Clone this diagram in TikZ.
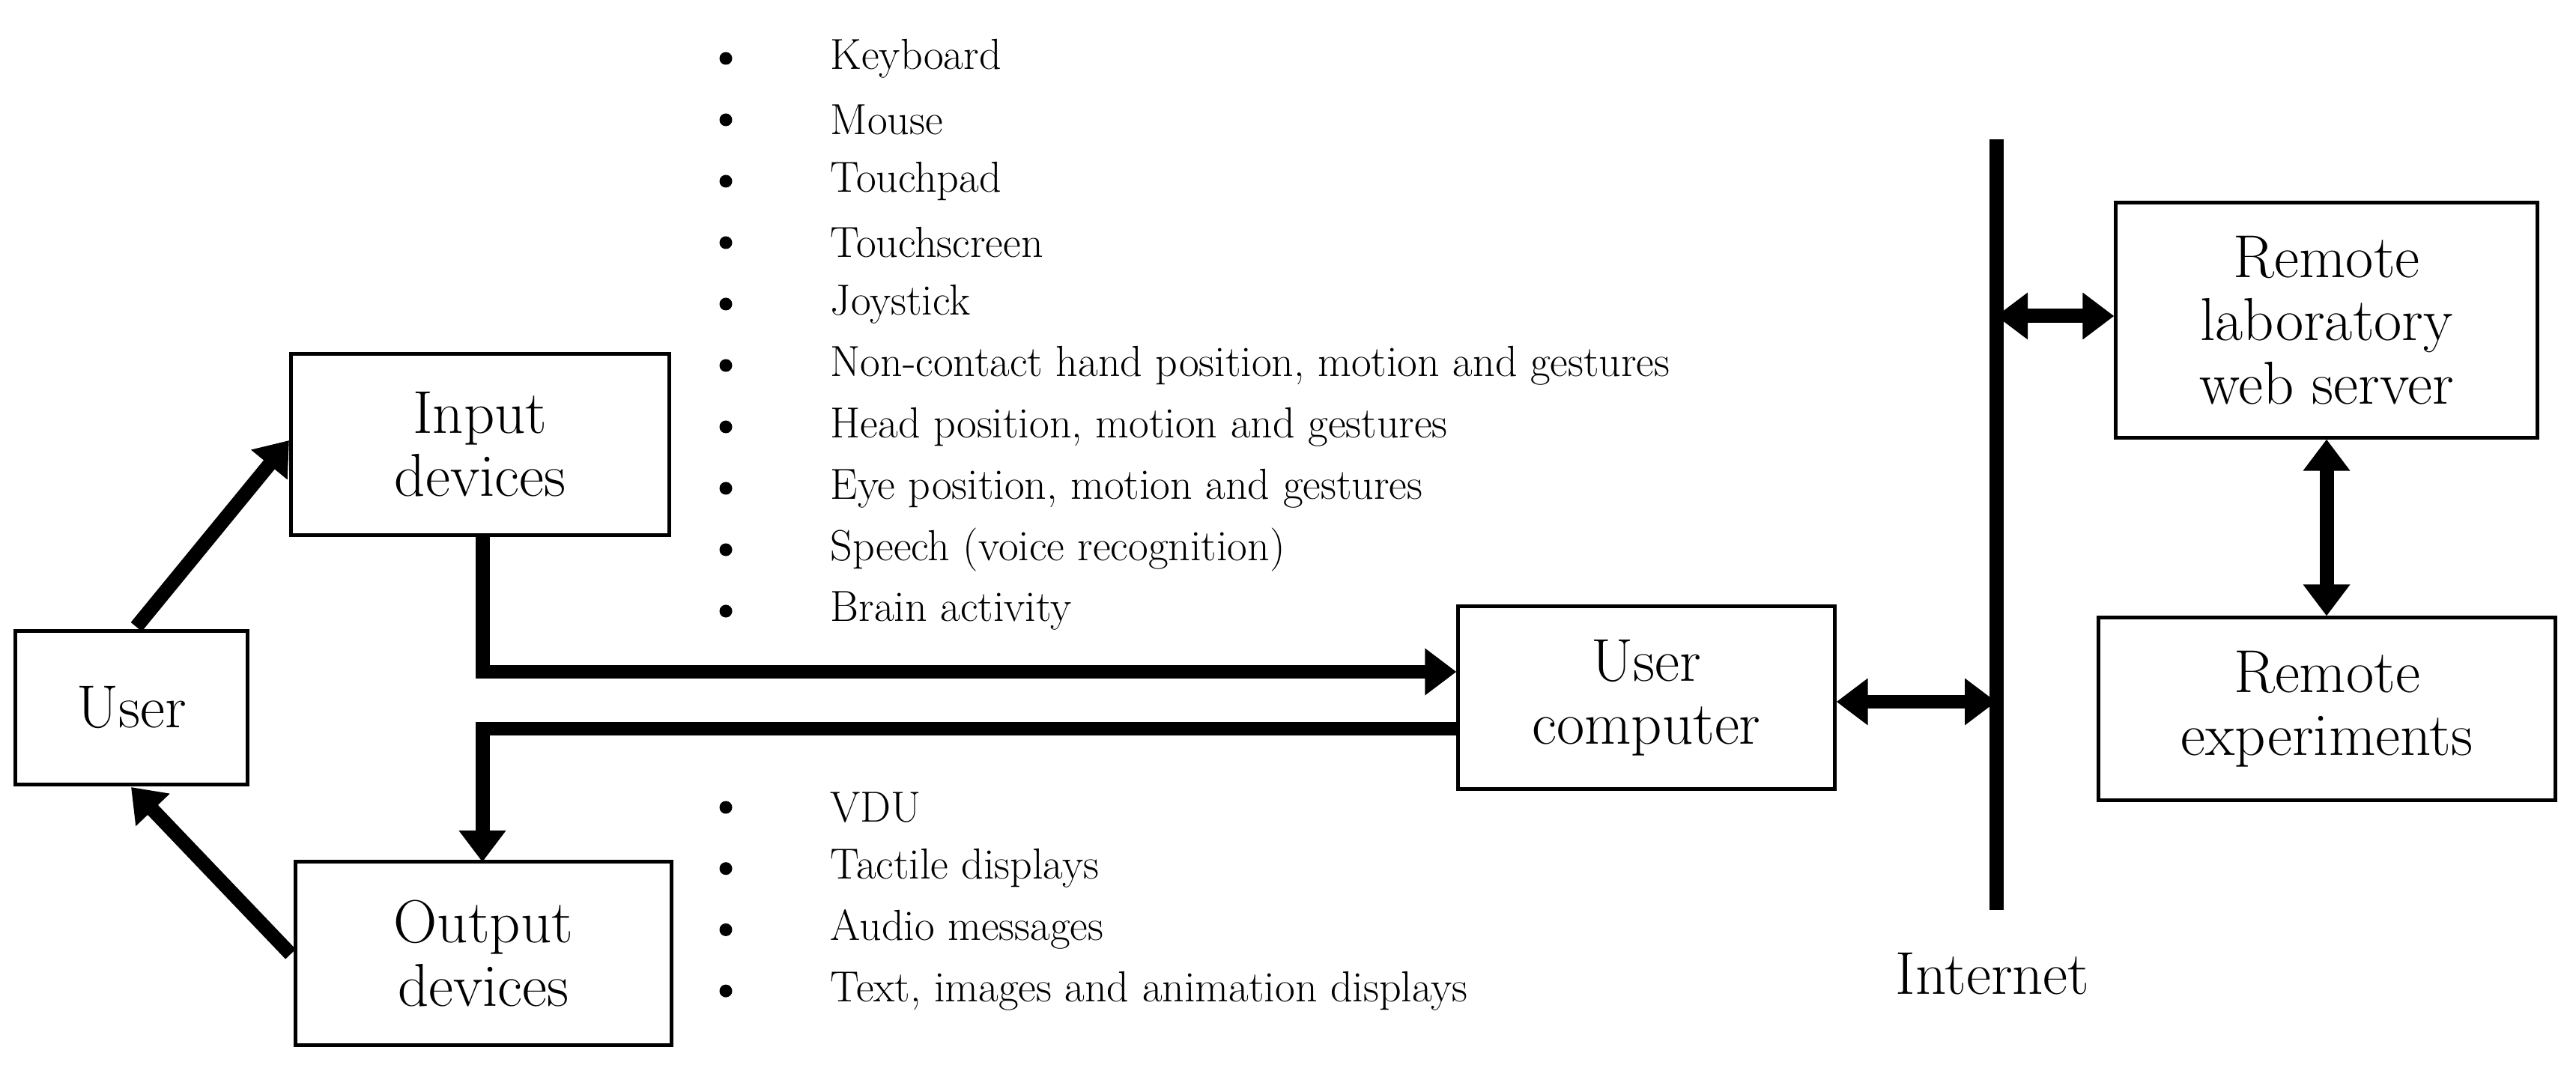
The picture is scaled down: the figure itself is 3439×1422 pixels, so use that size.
\documentclass[tikz,border=0pt]{standalone}
\usetikzlibrary{arrows.meta}
\begin{document}
\begin{tikzpicture}[x=0.01cm,y=-0.01cm,
 box/.style={draw,line width=1.4pt,inner sep=0pt,align=center,font=\fontsize{23}{24}\selectfont},
 fat/.style={line width=5.4pt},
 tip/.style={-{Triangle[length=0.42cm,width=0.6cm]}},
 both/.style={{Triangle[length=0.42cm,width=0.6cm]}-{Triangle[length=0.42cm,width=0.6cm]}},
 item/.style={anchor=west,font=\fontsize{16.5}{17}\selectfont,inner sep=0pt},
 dot/.style={fill,circle,inner sep=0pt,minimum size=0.17cm}]
\useasboundingbox (0,0) rectangle (3439,1422);
\node[box,minimum width=3.09cm,minimum height=2.04cm] (user) at (175.5,945) {User};
\node[box,minimum width=5.04cm,minimum height=2.41cm] (in) at (641,593.5) {Input\\devices};
\node[box,minimum width=5.01cm,minimum height=2.44cm] (out) at (645.5,1273) {Output\\devices};
\node[box,minimum width=5.02cm,minimum height=2.43cm] (comp) at (2198,931.5) {User\\computer};
\node[box,minimum width=5.62cm,minimum height=3.13cm] (srv) at (3106,427.5) {Remote\\laboratory\\web server};
\node[box,minimum width=6.09cm,minimum height=2.43cm] (exp) at (3106.5,946.5) {Remote\\experiments};
\coordinate (it) at (2665,186);
\coordinate (ib) at (2665,1215);
\draw[line width=5.4pt] (it) -- (ib);
\node[font=\fontsize{23}{24}\selectfont] (inet) at (2660,1300) {Internet};
\coordinate (a1) at (182,837);
\coordinate (a2) at (386,588);
\draw[fat,tip] (a1) -- (a2);
\coordinate (b1) at (388,1274);
\coordinate (b2) at (175,1051);
\draw[fat,tip] (b1) -- (b2);
\draw[fat,tip] (644,714) |- (comp.west |- 0,897);
\draw[fat,tip] (comp.west |- 0,973) -| (644,1151);
\draw[fat,both] (comp.east |- 0,937) -- (2665,937);
\draw[fat,both] (2665,422) -- (srv.west |- 0,422);
\draw[fat,both] (srv.south) -- (srv.south |- exp.north);
\foreach \t [count=\i from 0] in {Keyboard,Mouse,Touchpad,Touchscreen,Joystick,{Non-contact hand position, motion and gestures},{Head position, motion and gestures},{Eye position, motion and gestures},Speech (voice recognition),Brain activity}{
 \node[dot] (d\i) at (969,78+82*\i) {};
 \node[item] (t\i) at (1108,78+82*\i) {\t};
}
\foreach \t [count=\i from 0] in {VDU,Tactile displays,Audio messages,{Text, images and animation displays}}{
 \node[dot] (e\i) at (969,1078+81.7*\i) {};
 \node[item] (u\i) at (1108,1078+81.7*\i) {\t};
}
\end{tikzpicture}
\end{document}
